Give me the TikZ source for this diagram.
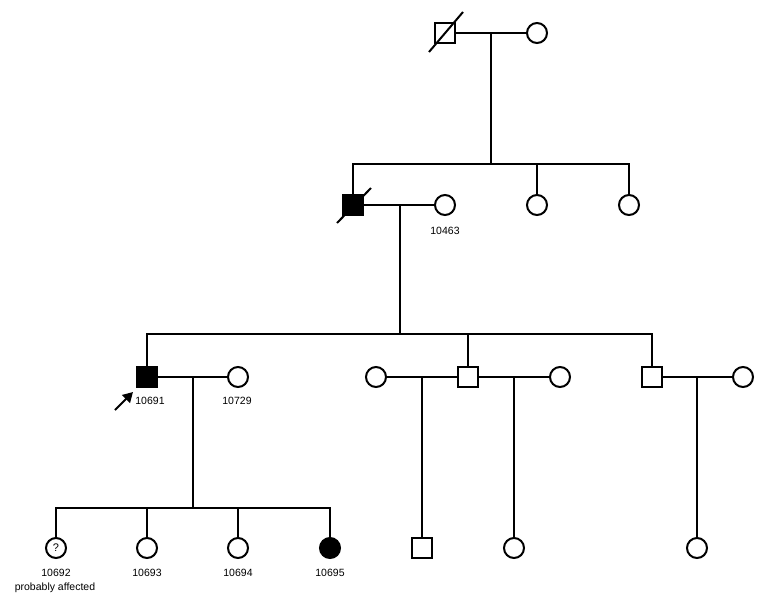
\documentclass[tikz,border=0pt]{standalone}
\usepackage{fontspec}
\setmainfont{Liberation Sans}
\usetikzlibrary{arrows.meta}

\tikzset{
  male/.style={draw, rectangle, line width=2pt, minimum size=20pt, inner sep=0pt},
  female/.style={draw, circle, line width=2pt, minimum size=20pt, inner sep=0pt},
  affected/.style={fill=black},
  line/.style={line width=2pt},
  ident/.style={inner sep=0pt, font=\fontsize{10.5}{12}\selectfont}
}

\begin{document}
\begin{tikzpicture}[x=1pt, y=-1pt]
            % Frame to ensure alignment:
            \useasboundingbox (0,0) rectangle (776,614);
            % Generation I
            \node[male]            (I1)   at (445,33)  {};
            \node[female]          (I2)   at (537,33)  {};
            \draw[line] (I1.center) ++(-16,19) -- ++(34,-40);
            \draw[line] (I1) -- (I2);
            \coordinate (m1) at (491,33);
            \coordinate (s1) at (491,164);
            \draw[line] (m1) -- (s1);
            % Generation II
            \node[male, affected]  (II1)  at (353,205) {};
            \node[female]          (II2)  at (445,205) {};
            \node[female]          (II3)  at (537,205) {};
            \node[female]          (II4)  at (629,205) {};
            \draw[line] (II1.center) ++(-16,18) -- ++(34,-35);
            \node[ident]           (l10463) at (445,231) {10463};
            \draw[line] (II1.north) |- (s1) -| (II4.north);
            \draw[line] (II3.north) -- (II3 |- s1);
            \draw[line] (II1) -- (II2);
            \coordinate (m2) at (400,205);
            \coordinate (s2) at (400,334);
            \draw[line] (m2) -- (s2);
            % Generation III
            \node[male, affected]  (III1) at (147,377) {};
            \node[female]          (III2) at (238,377) {};
            \node[female]          (III3) at (376,377) {};
            \node[male]            (III4) at (468,377) {};
            \node[female]          (III5) at (560,377) {};
            \node[male]            (III6) at (652,377) {};
            \node[female]          (III7) at (743,377) {};
            \node[ident]           (l10691) at (150,401) {10691};
            \node[ident]           (l10729) at (237,401) {10729};
            \coordinate (pb) at (115,410);
            \coordinate (pt) at (133,392);
            \draw[line, -{Triangle[length=10pt, width=11pt]}] (pb) -- (pt);
            \draw[line] (III1.north) |- (s2) -| (III6.north);
            \draw[line] (III4.north) -- (III4 |- s2);
            \draw[line] (III1) -- (III2);
            \draw[line] (III3) -- (III4);
            \draw[line] (III4) -- (III5);
            \draw[line] (III6) -- (III7);
            \coordinate (m3) at (193,377);
            \coordinate (s3) at (193,508);
            \draw[line] (m3) -- (s3);
            % Generation IV
            \node[female]          (IV1)  at (56,548)  {\fontsize{11}{11}\selectfont ?};
            \node[female]          (IV2)  at (147,548) {};
            \node[female]          (IV3)  at (238,548) {};
            \node[female, affected](IV4)  at (330,548) {};
            \node[male]            (IV5)  at (422,548) {};
            \node[female]          (IV6)  at (514,548) {};
            \node[female]          (IV7)  at (697,548) {};
            \node[ident]           (l10692) at (56,573)  {10692};
            \node[ident]           (lprob)  at (55,588)  {probably affected};
            \node[ident]           (l10693) at (147,573) {10693};
            \node[ident]           (l10694) at (238,573) {10694};
            \node[ident]           (l10695) at (330,573) {10695};
            \draw[line] (IV1.north) |- (s3) -| (IV4.north);
            \draw[line] (IV2.north) -- (IV2 |- s3);
            \draw[line] (IV3.north) -- (IV3 |- s3);
            \draw[line] (IV5 |- III3) -- (IV5);
            \draw[line] (IV6 |- III5) -- (IV6);
            \draw[line] (IV7 |- III7) -- (IV7);
\end{tikzpicture}
\end{document}
